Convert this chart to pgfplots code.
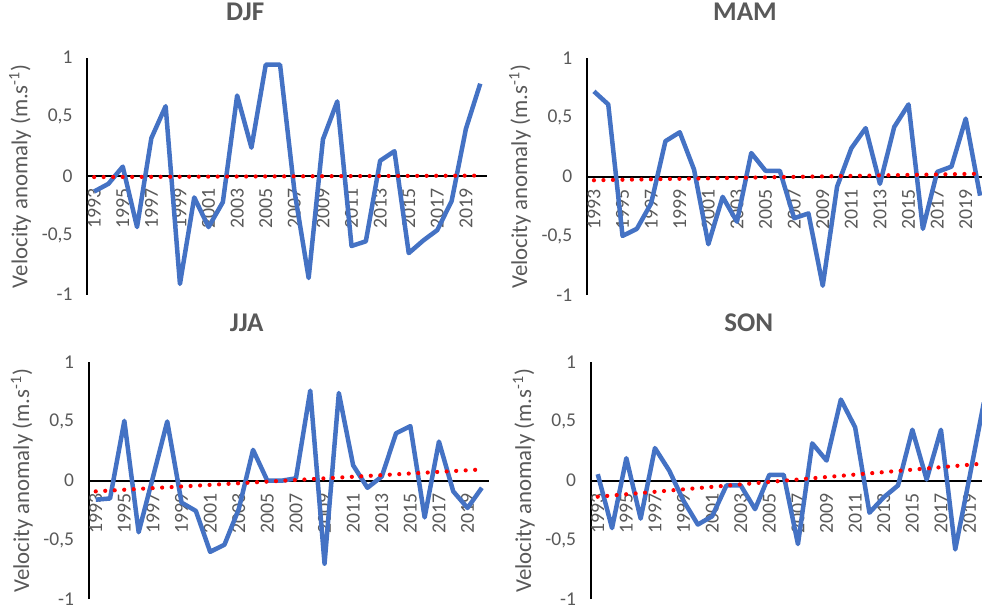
\documentclass[border=0pt]{standalone}
\usepackage{fontspec}
\setmainfont{Carlito}
\usepackage{pgfplots}
\pgfplotsset{compat=1.18}
\definecolor{txtgray}{HTML}{595959}
\definecolor{lineblue}{HTML}{4472C4}
\pgfplotsset{
  panel/.style={
    scale only axis, width=200.2pt, height=118.5pt,
    xmin=1992.5, xmax=2020.5, ymin=-1, ymax=1,
    axis x line=middle, axis y line=left,
    axis line style={-, black, line width=1pt},
    every inner x axis line/.append style={-},
    every outer y axis line/.append style={-},
    major tick length=0pt,
    xtick={1993,1995,...,2019},
    ytick={-1,-0.5,0,0.5,1},
    /pgf/number format/assume math mode=true,
    x tick label style={yshift=-2.75pt, rotate=90, anchor=east, font=\fontsize{9.9}{11}\selectfont, text=txtgray, /pgf/number format/1000 sep={}},
    y tick label style={anchor=east, xshift=-3.75pt, font=\fontsize{9.75}{11}\selectfont, text=txtgray, /pgf/number format/use comma},
    ylabel={Velocity anomaly (m.s\textsuperscript{-1})},
    ylabel style={at={(axis description cs:-0.167,0.5)}, anchor=center, font=\fontsize{11.4}{13}\selectfont, text=txtgray},
    title style={at={(axis description cs:0.395,1)}, anchor=center, font=\fontsize{13.5}{16}\selectfont\bfseries, text=txtgray},
  },
  blueline/.style={lineblue, line width=2.25pt, line join=round, mark=none},
  trend/.style={red, line width=2.1pt, line cap=round, dash pattern=on 0pt off 4.75pt, mark=none},
}
\begin{document}
\begin{tikzpicture}
\useasboundingbox (0,0) rectangle (491pt,-304.5pt);
\clip (0,0) rectangle (491pt,-304.5pt);

% DJF
\begin{axis}[panel, at={(43.5pt,-147.3pt)}, anchor=south west, title={DJF}, title style={yshift=17pt}]
\addplot[blueline] coordinates {
(1993,-0.13) (1994,-0.065) (1995,0.08) (1996,-0.43) (1997,0.32) (1998,0.59) (1999,-0.91)
(2000,-0.18) (2001,-0.43) (2002,-0.22) (2003,0.68) (2004,0.24) (2005,0.94) (2006,0.94)
(2007,-0.12) (2008,-0.86) (2009,0.31) (2010,0.63) (2011,-0.59) (2012,-0.55) (2013,0.13)
(2014,0.21) (2015,-0.65) (2016,-0.545) (2017,-0.455) (2018,-0.21) (2019,0.40) (2020,0.78)};
\addplot[trend] coordinates {(1993,-0.008) (2020,0.004)};
\end{axis}

% MAM
\begin{axis}[panel, at={(293.4pt,-147.6pt)}, anchor=south west, title={MAM}, title style={yshift=17pt}]
\addplot[blueline] coordinates {
(1993,0.72) (1994,0.61) (1995,-0.50) (1996,-0.44) (1997,-0.225) (1998,0.30) (1999,0.375)
(2000,0.06) (2001,-0.57) (2002,-0.17) (2003,-0.38) (2004,0.20) (2005,0.05) (2006,0.05)
(2007,-0.35) (2008,-0.31) (2009,-0.92) (2010,-0.085) (2011,0.24) (2012,0.41) (2013,-0.06)
(2014,0.42) (2015,0.61) (2016,-0.44) (2017,0.04) (2018,0.085) (2019,0.49) (2020,-0.16)};
\addplot[trend] coordinates {(1993,-0.03) (2020,0.025)};
\end{axis}

% JJA
\begin{axis}[panel, at={(44.3pt,-299.6pt)}, anchor=south west, title={JJA}, title style={yshift=13.5pt}]
\addplot[blueline] coordinates {
(1993,-0.16) (1994,-0.15) (1995,0.505) (1996,-0.435) (1997,0.03) (1998,0.50) (1999,-0.185)
(2000,-0.255) (2001,-0.60) (2002,-0.54) (2003,-0.24) (2004,0.26) (2005,0.0) (2006,0.0)
(2007,0.02) (2008,0.76) (2009,-0.70) (2010,0.74) (2011,0.13) (2012,-0.06) (2013,0.035)
(2014,0.40) (2015,0.46) (2016,-0.31) (2017,0.33) (2018,-0.09) (2019,-0.23) (2020,-0.06)};
\addplot[trend] coordinates {(1993,-0.09) (2020,0.095)};
\end{axis}

% SON
\begin{axis}[panel, at={(295.3pt,-299.6pt)}, anchor=south west, title={SON}, title style={yshift=13.5pt}]
\addplot[blueline] coordinates {
(1993,0.055) (1994,-0.40) (1995,0.19) (1996,-0.32) (1997,0.275) (1998,0.085) (1999,-0.17)
(2000,-0.37) (2001,-0.30) (2002,-0.04) (2003,-0.04) (2004,-0.24) (2005,0.05) (2006,0.05)
(2007,-0.535) (2008,0.315) (2009,0.17) (2010,0.685) (2011,0.45) (2012,-0.27) (2013,-0.14)
(2014,-0.04) (2015,0.43) (2016,0.01) (2017,0.43) (2018,-0.58) (2019,0.03) (2020,0.66)};
\addplot[trend] coordinates {(1993,-0.135) (2020,0.145)};
\end{axis}
\end{tikzpicture}
\end{document}
